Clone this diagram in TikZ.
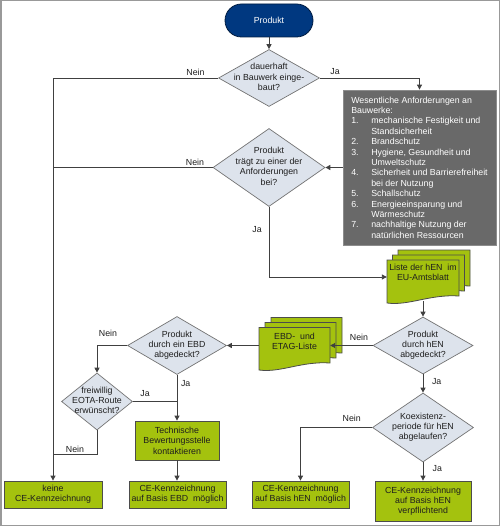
\documentclass[tikz,border=0pt]{standalone}
\usepackage{fontspec}
\setmainfont{Liberation Sans}
\usetikzlibrary{shapes.geometric,arrows.meta,calc}
\definecolor{navy}{RGB}{0,56,128}
\definecolor{lime}{RGB}{164,194,14}
\definecolor{diafill}{RGB}{221,227,236}
\definecolor{reqgray}{RGB}{105,105,105}
\definecolor{linec}{RGB}{64,64,64}
\definecolor{txt}{RGB}{30,30,30}
\newcommand\dt[1]{\smash{\makebox[0pt]{\raisebox{-2.2pt}{\begin{tabular}{@{}c@{}}#1\end{tabular}}}}}
\newcommand\docshape[4]{%
  \path[docst] ({#1},{-(#2)}) -- ({#1+#3},{-(#2)}) -- ({#1+#3},{-(#2+#4-7)})
    .. controls ({#1+0.6*#3},{-(#2+#4-9)}) and ({#1+0.3*#3},{-(#2+#4+3)}) .. ({#1},{-(#2+#4)}) -- cycle;}
\newcommand\nr[1]{\makebox[20pt][l]{#1}}
\begin{document}
\begin{tikzpicture}[x=1pt,y=1pt,
  fnt/.style={font=\fontsize{8.8}{10.4}\selectfont},
  dia/.style={diamond, draw=black!55, fill=diafill, line width=0.7pt, inner sep=0pt, fnt, text=txt},
  gbox/.style={rectangle, draw=black!70, fill=lime, line width=0.8pt, fnt, text=txt, align=center, inner sep=0pt},
  docst/.style={draw=black!70, fill=lime, line width=0.8pt},
  doctext/.style={fnt, text=txt, align=center, inner sep=0pt},
  prodbox/.style={rectangle, rounded corners=16.5pt, minimum width=88pt, minimum height=33pt, fill=navy, draw=navy!50!black, line width=0.8pt, text=white, fnt},
  reqbox/.style={rectangle, fill=reqgray, draw=black!45, line width=0.8pt, text=white, fnt, inner sep=0pt, minimum width=153pt, minimum height=155pt, align=left},
  conn/.style={draw=linec, line width=0.9pt},
  arr/.style={conn, -{Triangle[length=5pt,width=5pt]}},
  lbl/.style={fnt, text=txt, inner sep=0pt},
]
\useasboundingbox (0,0) rectangle (500,-526);
\draw[draw=black!40, line width=1.5pt] (0.75,-0.75) rectangle (499.25,-525.25);

% nodes
\node[prodbox] (prod) at (269,-20.5) {Produkt};
\node[dia, minimum width=101pt, minimum height=57pt] (d1) at (269,-78) {\dt{dauerhaft\\in Bauwerk einge-\\baut?}};
\node[reqbox] (req) at (419.5,-167.5) {Wesentliche Anforderungen an\\
Bauwerke:\\
\nr{1.}mechanische Festigkeit und\\
\hspace*{20pt}Standsicherheit\\
\nr{2.}Brandschutz\\
\nr{3.}Hygiene, Gesundheit und\\
\hspace*{20pt}Umweltschutz\\
\nr{4.}Sicherheit und Barrierefreiheit\\
\hspace*{20pt}bei der Nutzung\\
\nr{5.}Schallschutz\\
\nr{6.}Energieeinsparung und\\
\hspace*{20pt}Wärmeschutz\\
\nr{7.}nachhaltige Nutzung der\\
\hspace*{20pt}natürlichen Ressourcen};
\node[dia, minimum width=112pt, minimum height=78pt] (d2) at (269,-167.5) {\dt{Produkt\\trägt zu einer der\\Anforderungen\\bei?}};

\docshape{398}{250}{72}{43}
\docshape{392.5}{255}{72}{43}
\docshape{387}{260}{72}{43}
\node[doctext, minimum width=72pt, minimum height=25pt] (liste) at (423,-272.5) {Liste der hEN\ \ im\\EU-Amtsblatt};

\node[dia, minimum width=100pt, minimum height=57pt] (d3) at (423,-345.5) {\dt{Produkt\\durch hEN\\abgedeckt?}};

\docshape{271}{317.5}{71}{42.5}
\docshape{265}{322.5}{71}{42.5}
\docshape{259}{327.5}{71}{42.5}
\node[doctext, minimum width=71pt, minimum height=28pt] (ebd) at (294.5,-341.5) {EBD-\ \ und\\ETAG-Liste};

\node[dia, minimum width=99pt, minimum height=58pt] (d4) at (177,-345.5) {\dt{Produkt\\durch ein EBD\\abgedeckt?}};
\node[dia, minimum width=71pt, minimum height=57pt] (d5) at (97,-401.5) {\dt{freiwillig\\EOTA-Route\\erwünscht?}};
\node[dia, minimum width=101pt, minimum height=69pt] (d6) at (423,-427.5) {\dt{Koexistenz-\\periode für hEN\\abgelaufen?}};

\node[gbox, minimum width=84pt, minimum height=39pt] (tech) at (177,-440.5) {Technische\\Bewertungsstelle\\kontaktieren};
\node[gbox, minimum width=98pt, minimum height=27pt] (keine) at (53,-494.5) {keine\\CE-Kennzeichnung};
\node[gbox, minimum width=97pt, minimum height=27pt] (ceebd) at (177.5,-494.5) {CE-Kennzeichnung\\auf Basis EBD\ \ möglich};
\node[gbox, minimum width=97pt, minimum height=27pt] (cehen) at (300.5,-494.5) {CE-Kennzeichnung\\auf Basis hEN\ \ möglich};
\node[gbox, minimum width=96pt, minimum height=40.5pt] (cepf) at (423,-501.25) {CE-Kennzeichnung\\auf Basis hEN\\verpflichtend};

% connectors
\draw[arr] (prod.south) -- (d1.north);
\draw[arr] (d1.west) -| (keine.north);
\draw[arr] (d1.east) -| (req.north);
\draw[arr] (req.west) -- (d2.east);
\draw[conn] (d2.west) -- (d2.west -| keine.north);
\draw[arr] (d2.south) |- ([yshift=-4.5pt]liste.west);
\draw[arr] ([yshift=-16pt]liste.south) -- (d3.north);
\draw[arr] (d3.west) -- ([yshift=-4pt]ebd.east);
\draw[arr] ([yshift=-4pt]ebd.west) -- (d4.east);
\draw[arr] (d4.west) -| (d5.north);
\draw[arr] (d4.south) -- (tech.north);
\draw[conn] (d5.east) -- (d5.east -| d4.south);
\draw[conn] (d5.south) |- ([yshift=26pt]keine.north);
\draw[arr] (tech.south) -- (tech.south |- ceebd.north);
\draw[arr] (d3.south) -- (d6.north);
\draw[arr] (d6.west) -| (cehen.north);
\draw[arr] (d6.south) -- (cepf.north);

% labels
\node[lbl] (l1) at (195.5,-72) {Nein};
\node[lbl] (l2) at (335,-72) {Ja};
\node[lbl] (l3) at (195,-162) {Nein};
\node[lbl] (l4) at (257,-229.3) {Ja};
\node[lbl] (l5) at (359,-337.3) {Nein};
\node[lbl] (l6) at (436.7,-381.7) {Ja};
\node[lbl] (l7) at (108,-333.3) {Nein};
\node[lbl] (l8) at (185.7,-384) {Ja};
\node[lbl] (l9) at (145,-393.3) {Ja};
\node[lbl] (l10) at (75,-449.3) {Nein};
\node[lbl] (l11) at (351.7,-418.3) {Nein};
\node[lbl] (l12) at (437.3,-468.3) {Ja};
\end{tikzpicture}
\end{document}
